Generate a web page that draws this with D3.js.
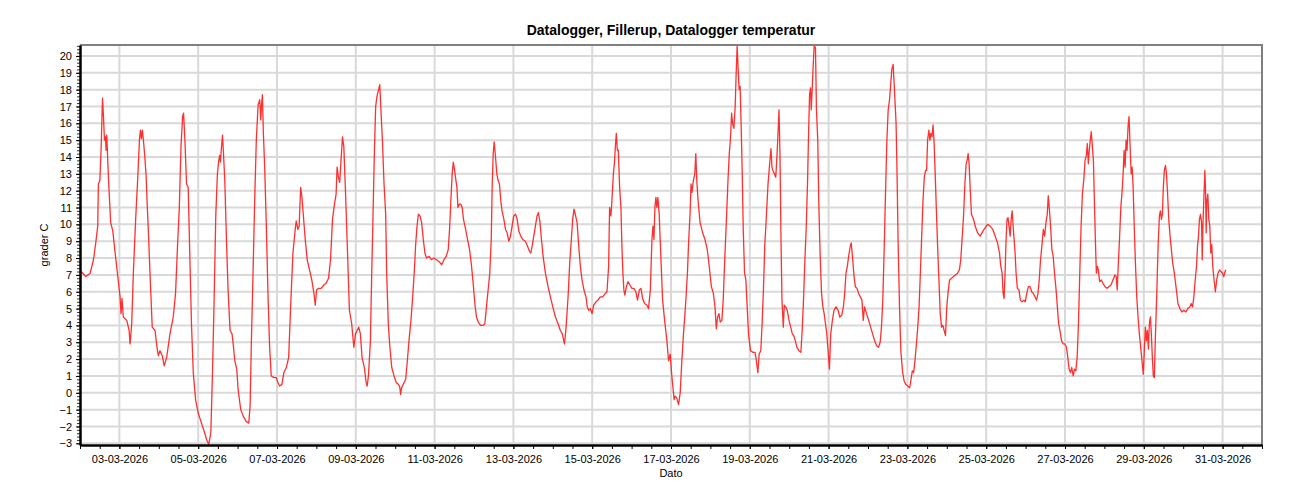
<!DOCTYPE html>
<html>
<head>
<meta charset="utf-8">
<script src="https://cdn.jsdelivr.net/npm/d3@7"></script>
<style>
    body { margin: 0; background: #fff; }
    text { font-family: "Liberation Sans", Arial, sans-serif; fill: #000; }
</style>
</head>
<body>
<div id="chart"></div>
<script>
// Logger readings, hours counted from 02-03-2026 00:00
const startTime = new Date(2026, 2, 2, 0, 0);

const hoursFromStart = [
    0.7, 3.5, 6.2, 8.2, 9.6, 10.8, 11.2, 12.1, 12.9, 13.7, 14.3, 14.9, 15.5, 15.9, 16.3, 16.9, 17.7, 18.7, 20, 21.4, 22.8,
    24.4, 25, 25.6, 26.4, 28.5, 29.9, 30.5, 31.5, 32.5, 33.9, 35.1, 36.2, 36.8, 37.4, 38, 38.8, 39.4, 40.2, 41.2, 42, 42.8,
    44, 45.7, 46.9, 47.7, 48.7, 50.1, 51.3, 52.8, 54.8, 56.8, 58.2, 59.4, 60.5, 61.5, 62.5, 63.1, 63.9, 64.9, 65.9, 66.9,
    67.9, 69, 70.4, 72, 74, 76, 77.2, 78.4, 79.7, 80.7, 81.7, 82.7, 83.7, 84.5, 85.1, 85.5, 86.2, 86.8, 87.4, 88.2, 89.2,
    90.2, 91.4, 92.6, 93.3, 94.3, 95.5, 96.3, 97.9, 99.5, 101.2, 102.8, 103.6, 104.4, 105.4, 106.4, 107.4, 108.5, 109.5,
    110.1, 110.5, 111.1, 111.7, 112.5, 113.5, 114.5, 115.5, 116.5, 118.2, 119.6, 120.6, 121.6, 123, 124.2, 125.7, 127.1,
    128.3, 129.7, 131.1, 131.7, 132.7, 133.5, 134.4, 135.2, 136, 137.2, 138.4, 139.8, 141.2, 142.5, 143.3, 144.1, 145.3,
    146.9, 148.5, 149.9, 151.4, 152.6, 153.8, 155, 156, 156.6, 157.4, 158.2, 159, 159.9, 160.7, 161.7, 162.7, 164.1,
    165.5, 166.8, 167.8, 168.8, 169.8, 170.8, 171.8, 173.2, 174.3, 174.9, 175.7, 176.9, 177.7, 178.5, 179.3, 180.1, 180.9,
    182.6, 183.2, 184.2, 185.2, 186.2, 186.8, 187.8, 188.6, 189.9, 191.3, 192.7, 193.9, 194.7, 195.3, 195.9, 196.9, 198.4,
    199.4, 200.4, 201.6, 202.8, 203.8, 204.4, 205.3, 206.1, 207.1, 208.1, 209.1, 210.1, 211.1, 212.6, 214, 215.6, 217.2,
    218.6, 220.3, 221.7, 223.1, 224.3, 225.1, 225.9, 226.7, 227.4, 228.2, 229, 229.6, 230.2, 231, 232, 232.8, 233.6, 234.9,
    236.1, 237.3, 238.3, 239.5, 240.5, 241.5, 242.6, 244, 245.4, 246.6, 247.6, 248.6, 249.6, 250.5, 251.1, 251.7, 252.3,
    253.1, 253.9, 254.7, 255.5, 256.3, 257.1, 258.2, 259.2, 260.2, 261.2, 262.2, 263.2, 264.2, 265.3, 266.3, 267.3, 268.5,
    269.7, 271.3, 272.6, 273.8, 274.6, 275.4, 276.4, 277.4, 278.4, 279.2, 280.1, 281.1, 282.1, 283.5, 285.1, 286.5, 288,
    289.6, 291.2, 292.6, 293.8, 295.1, 296.1, 297.3, 298.3, 299.3, 300.1, 300.9, 301.7, 302.8, 303.8, 304.8, 305.8, 307,
    308.2, 309, 309.9, 310.9, 311.9, 312.9, 314.3, 315.5, 316.9, 318.4, 320, 321, 322, 322.6, 323.4, 324, 324.9, 325.5,
    326.1, 326.7, 327.3, 327.9, 328.7, 329.5, 330.1, 330.7, 331.3, 331.9, 332.8, 333.8, 335, 336.2, 337.4, 338.6, 339.6,
    340.7, 341.7, 342.7, 343.9, 345.3, 346.3, 347.4, 348.4, 349, 349.6, 350.2, 350.8, 351.4, 352, 352.8, 353.8, 354.9,
    356.1, 357.5, 358.5, 359.5, 360.5, 361.9,
    362.5, 363.5, 364.6, 365.6, 366.6, 367.6, 368.8, 370, 370.8, 371.6, 372.2, 372.8, 373.6, 374.5, 375.1, 375.7, 376.5,
    377.7, 379.3, 380.7, 382.1, 383.3, 384.6, 385.8, 386.8, 387.6, 388.4, 389.2, 390, 391, 391.8, 392.8, 393.9, 394.7,
    395.5, 396.3, 396.9, 397.5, 398.3, 399.1, 399.7, 400.3, 400.9, 401.5, 402.1, 402.7, 403.4, 404, 404.8, 405.6, 406.4,
    407.2, 408.4, 410, 411.2, 412, 412.9, 413.7, 414.7, 415.5, 416.3, 417.1, 418.1, 419.1, 420.1, 420.9, 421.5, 422.1,
    423, 423.8, 424.4, 425, 425.8, 426.4, 427, 427.6, 428.4, 429, 429.8, 430.8, 431.9, 432.9, 433.9, 434.7, 435.7, 436.7,
    437.9, 439.1, 439.9, 440.7, 441.5, 442.4, 443.2, 443.8, 444.4, 445, 445.4, 446, 446.6, 447.2, 448, 448.6, 449.4, 450,
    450.8, 451.7, 452.5, 453.3, 454.1, 454.9, 455.7, 456.5, 457.3, 458.3, 459.3, 460.5, 461.8, 462.8, 464, 465, 465.8,
    466.6, 467.4, 468.2, 469.2, 469.8, 470.7, 471.5, 472.3, 473.3, 474.3, 475.3, 476.3, 477.1, 477.9, 479.1, 480.4, 481.6,
    482.8, 484, 485.2, 486.4, 487.4, 488.2, 489, 489.9, 490.7, 491.5, 492.3, 493.1, 493.9, 494.5, 495.3, 495.9, 496.5,
    497.1, 497.7, 498.3, 499.2, 500, 501, 502, 503, 504.2, 505.4, 506.2, 507, 507.8, 508.6, 509.5, 510.3, 511.1, 511.9,
    512.7, 513.5, 514.3, 515.1, 515.7, 516.3, 517.1, 517.7, 518.3, 519, 519.6, 520.2, 520.8, 521.6, 522.4, 523.2, 524,
    524.8, 525.6, 526.4, 527.2, 528, 528.9, 529.7, 530.9, 532.1, 533.3, 534.5, 535.7, 536.5, 537.3, 538.2, 539, 539.8,
    540.4, 541, 541.6, 542.2, 543,
    544.3, 545.3, 546.7, 548.4, 550, 551.4, 552.8, 554.4, 556, 557.5, 558.9, 560.1, 560.9, 561.7, 562.3, 562.9, 563.5,
    564.1, 564.7, 565.3, 565.9, 566.6, 567.2, 567.8, 568.4, 569, 569.6, 570.2, 571, 572, 572.8, 573.8, 575, 575.8, 576.7,
    577.7, 578.7, 579.7, 580.7, 581.7, 582.7, 583.5, 584.3, 585.1, 585.9, 586.8, 587.6, 588.4, 589.2, 589.8, 590.4, 591.2,
    592, 592.8, 593.6, 594.4, 595.2, 596.1, 596.9, 597.9, 598.9, 599.9, 600.9, 601.7, 602.5, 603.3, 604.1, 605, 605.8,
    606.6, 607.4, 608.2, 609, 609.8, 610.6, 611.4, 612.2, 613, 613.6, 614.2, 614.8, 615.4, 616, 616.7, 617.3, 617.9,
    618.5, 619.1, 619.7, 620.3, 621.1, 622.1, 623.1, 624.4, 625.6, 626.8, 628, 629.2, 630.4, 631.2, 631.8, 632.4, 633.2,
    634, 634.8, 635.4, 636, 636.6, 637.2, 637.8, 638.4, 639, 639.6, 640.3, 640.9, 641.5, 642.1, 642.9, 643.7, 644.5,
    645.3, 646.1, 646.9, 647.7, 648.4, 649, 649.6, 650.2, 650.8, 651.4, 652, 652.6, 653.2, 653.8, 654.4, 655, 655.9,
    656.7, 657.5, 658.1, 658.7, 659.3, 659.9, 660.5, 661.2, 661.8, 662.4, 663.2, 664, 664.8, 665.6, 666.6, 667.6, 668.8,
    670, 671.2, 672.4, 673.6, 674.8, 676, 676.9, 677.7, 678.5, 679.3, 680.1, 680.7, 681.3, 681.9, 682.5, 683.2, 683.6,
    684, 684.6, 685.2, 685.6, 686, 686.4, 687, 687.6, 688.2, 688.8, 689.4, 690, 690.8, 691.6, 692.4, 693.2, 694.2, 695,
    695.9, 696.7, 697.5, 697.9
];

const temperatures = [
    7.2, 6.9, 7.1, 7.9, 8.9, 9.9, 12.4, 12.6, 14.6, 17.5, 16.4, 15.0, 15.2, 14.4, 15.3, 13.8, 12.0, 10.1, 9.6, 8.3, 7.1,
    5.7, 4.7, 5.6, 4.5, 4.3, 3.7, 2.9, 4.1, 7.1, 10.3, 12.6, 15.0, 15.6, 15.1, 15.6, 14.8, 14.1, 13.0, 10.6, 8.7, 6.7,
    3.9, 3.7, 2.7, 2.2, 2.5, 2.2, 1.6, 2.1, 3.5, 4.5, 5.9, 8.7, 11.0, 14.6, 16.4, 16.6, 15.0, 12.4, 12.2, 8.1,
    4.1, 1.2, -0.4, -1.2, -1.8, -2.4, -2.8, -3.05, -2.4, 1.2, 5.5, 10.5, 13.0, 13.8, 14.1, 13.7, 14.6, 15.3, 14.2, 12.6, 9.1,
    6.1, 3.7, 3.5, 2.9, 1.9, 1.4, 0.2, -1.0, -1.4, -1.7, -1.8, -0.8, 3.1, 7.1, 11.4, 15.0, 17.1, 17.4,
    16.2, 17.0, 17.7, 15.4, 13.4, 9.9, 5.9, 2.7, 1.0, 0.9, 0.9, 0.6, 0.4, 0.5, 1.2, 1.5, 2.1,
    5.1, 8.3, 9.7, 10.2, 9.7, 9.9, 12.2, 11.6, 10.6, 9.1, 7.9, 7.3, 6.7, 5.9, 5.2, 6.1, 6.2,
    6.2, 6.4, 6.5, 6.8, 7.9, 10.3, 11.2, 11.8, 13.4, 12.8, 12.5, 13.8, 15.2, 14.6, 12.0, 9.1, 4.9,
    4.1, 2.7, 3.5, 3.7, 3.9, 3.5, 2.1, 1.5, 0.6, 0.4, 1.0, 3.1, 7.1, 10.6, 14.2, 17.0, 17.6,
    18.3, 17.0, 15.0, 12.4, 10.6, 7.1, 4.1, 2.9, 1.5, 1.0, 0.6, 0.5, 0.4, -0.1, 0.3, 0.5, 0.8,
    1.9, 3.1, 4.3, 5.9, 7.5, 8.7, 9.9, 10.6, 10.5, 10.1, 9.1, 8.3, 8.0, 8.1, 7.9, 8.0, 7.9,
    7.8, 7.6, 7.9, 8.1, 8.5, 9.7, 11.4, 13.0, 13.7, 13.2, 12.6, 12.2, 11.0, 11.2, 11.2, 11.0, 10.3, 9.7,
    9.1, 8.5, 7.7, 6.5, 5.3, 4.5, 4.2, 4.0, 4.0, 4.1, 5.1, 6.1, 7.1, 9.1, 12.4, 14.2, 14.9,
    14.0, 13.0, 12.6, 12.4, 11.4, 10.8, 10.3, 9.7, 9.5, 9.0, 9.3, 9.9, 10.5, 10.6, 10.3, 9.6, 9.3,
    9.1, 9.0, 8.7, 8.4, 8.3, 8.7, 9.3, 9.9, 10.5, 10.7, 10.2, 9.1, 8.1, 7.1, 6.3, 5.7, 5.1,
    4.5, 4.1, 3.7, 3.5, 2.9, 3.9, 5.7, 7.7, 9.1, 10.3, 10.9, 10.6, 10.1, 8.7, 7.5, 6.7, 6.1,
    5.7, 5.1, 4.9, 5.0, 4.7, 5.2, 5.4, 5.5, 5.7, 5.7, 5.9, 6.0, 7.5, 11.0, 10.5, 11.4, 13.0, 13.6,
    14.6, 15.4, 14.4, 14.4, 12.2, 11.0, 8.7, 7.1, 6.1, 5.8, 6.3, 6.6, 6.4, 6.2, 6.2, 6.0, 5.5,
    6.1, 6.2, 5.6, 5.3, 5.2, 5.0, 6.1, 9.1, 9.9, 9.1, 11.0, 11.6, 11.0, 11.6, 10.6, 8.1, 5.5,
    4.3, 3.1, 1.9, 2.3, 1.0, -0.4,
    -0.2, -0.3, -0.7, 0.0, 1.9, 3.5, 5.1, 7.1, 9.1, 10.6, 12.4, 11.9, 12.6, 13.0, 14.2, 12.6, 11.4,
    10.1, 9.5, 9.1, 8.5, 7.5, 6.3, 5.9, 5.1, 3.8, 4.5, 4.7, 4.2, 4.3, 5.5, 8.1, 10.6, 12.6,
    14.2, 15.2, 16.6, 16.0, 15.7, 17.0, 19.0, 20.6, 19.2, 18.0, 18.2, 16.0, 13.0, 9.7, 7.1, 6.7, 5.1,
    3.5, 2.5, 2.4, 2.4, 1.9, 1.2, 2.3, 2.5, 4.1, 6.1, 8.7, 10.5, 12.4, 13.6, 14.5, 13.4, 13.2,
    13.0, 12.8, 13.8, 15.0, 16.8, 14.0, 9.1, 5.5, 3.9, 5.2, 5.1, 4.9, 4.3, 3.9, 3.5, 3.4, 3.1, 2.7,
    2.5, 2.4, 3.7, 5.5, 7.7, 9.9, 12.6, 15.4, 17.7, 18.1, 16.8, 18.0, 19.4, 20.6, 20.5, 16.8, 15.0, 11.4,
    8.3, 5.9, 5.1, 4.7, 4.1, 3.5, 2.5, 1.4, 3.5, 4.3, 4.9, 5.1, 4.9, 4.5, 4.6, 5.1, 5.9,
    7.1, 7.5, 8.1, 8.7, 8.9, 7.9, 6.9, 6.3, 6.2, 5.9, 5.7, 5.5, 4.3, 5.1, 4.7, 4.3, 3.9,
    3.5, 3.1, 2.8, 2.7, 3.0, 3.9, 5.5, 8.7, 12.0, 15.0, 16.8, 17.4, 18.4, 19.2, 19.5, 18.4, 17.2,
    16.0, 13.0, 9.1, 5.1, 2.5, 1.3, 0.7, 0.5, 0.4, 0.3, 0.8, 1.3, 1.2, 1.9, 2.9, 3.9, 5.1, 7.1,
    9.3, 11.4, 12.8, 13.2, 13.2, 15.0, 15.6, 15.0, 15.4, 15.2, 15.9, 15.0, 13.4, 11.0, 8.7, 6.7, 4.7,
    3.9, 4.0, 3.7, 3.4, 5.1, 6.1, 6.7, 6.8, 6.9, 7.0, 7.1, 7.3, 7.9, 9.1, 10.5, 12.4, 13.6,
    13.8, 14.2, 13.6, 12.2, 10.6,
    10.3, 9.9, 9.5, 9.3, 9.6, 9.8, 10.0, 9.9, 9.7, 9.3, 8.9, 8.3, 7.5, 7.1, 5.9, 5.6, 7.1,
    9.1, 10.3, 10.4, 9.9, 9.3, 10.3, 10.8, 9.9, 9.1, 8.3, 7.1, 6.2, 6.1, 5.5, 5.4, 5.5, 5.4, 5.9,
    6.3, 6.3, 6.0, 5.9, 5.7, 5.5, 5.9, 6.7, 7.9, 8.7, 9.7, 9.3, 10.1, 10.6, 11.7, 11.0, 9.9,
    8.5, 8.1, 7.1, 6.3, 5.3, 4.1, 3.7, 3.1, 2.9, 2.9, 2.7, 2.1, 1.4, 1.2, 1.5, 1.0, 1.4,
    1.3, 2.1, 4.1, 7.1, 9.9, 11.8, 12.6, 13.8, 14.1, 14.8, 13.6, 14.4, 15.0, 15.5, 14.6, 13.8, 11.4,
    9.1, 7.1, 7.5, 7.3, 6.6, 6.7, 6.5, 6.3, 6.2, 6.3, 6.4, 6.7, 7.0, 6.9, 6.1, 7.5, 9.1,
    11.0, 12.0, 13.0, 14.4, 13.4, 15.0, 14.4, 15.8, 16.4, 14.8, 13.0, 13.4, 12.2, 10.1, 7.7, 5.7, 4.5,
    3.5, 2.7, 1.9, 1.1, 2.7, 3.9, 3.1, 3.7, 2.6, 4.1, 4.5, 3.5, 2.1, 1.0, 0.9, 3.1, 5.9,
    8.7, 10.5, 10.8, 10.3, 10.6, 12.2, 13.2, 13.5, 13.0, 12.0, 10.3, 9.3, 8.5, 7.7, 7.1, 6.3, 5.3,
    5.0, 4.8, 4.9, 4.8, 5.0, 5.1, 5.3, 5.1, 5.7, 6.7, 7.5, 8.7, 9.3, 10.3, 10.6, 10.1, 7.9,
    9.9, 11.6, 13.2, 12.0, 9.5, 11.4, 11.8, 10.3, 9.9, 8.3, 8.8, 7.5, 6.7, 6.0, 6.7, 7.1, 7.3, 7.2,
    7.1, 6.9, 7.2, 7.3
];

const chartTitle = 'Datalogger, Fillerup, Datalogger temperatur';
const yAxisTitle = 'grader C';
const xAxisTitle = 'Dato';
const xDomain = [new Date(2026, 2, 2, 0, 0), new Date(2026, 3, 1, 0, 0)];
const yDomain = [-3.1, 20.65];

const width = 1300;
const height = 500;
const margin = { top: 45, right: 38, bottom: 55, left: 80 };
const plotWidth = width - margin.left - margin.right;
const plotHeight = height - margin.top - margin.bottom;

const readings = hoursFromStart.map((h, i) => ({
    time: d3.timeMinute.offset(startTime, Math.round(h * 60)),
    temp: temperatures[i]
}));

const svg = d3.select('#chart')
    .append('svg')
    .attr('width', width)
    .attr('height', height);

const canvas = svg.append('g')
    .attr('transform', `translate(${margin.left}, ${margin.top})`);

const x = d3.scaleTime().domain(xDomain).range([0, plotWidth]);
const y = d3.scaleLinear().domain(yDomain).range([plotHeight, 0]);

const majorDates = d3.timeDay.every(2).range(xDomain[0], xDomain[1]);
const yMajor = d3.range(-3, 21, 1);
const yMinor = d3.range(-3, 20.61, 0.2);

// Grid lines
canvas.append('g')
    .attr('class', 'grid-y')
    .selectAll('line')
    .data(yMajor)
    .enter()
    .append('line')
    .attr('x1', 0)
    .attr('x2', plotWidth)
    .attr('y1', d => y(d))
    .attr('y2', d => y(d))
    .attr('stroke', '#d9d9d9')
    .attr('stroke-width', 2);

canvas.append('g')
    .attr('class', 'grid-x')
    .selectAll('line')
    .data(majorDates)
    .enter()
    .append('line')
    .attr('x1', d => x(d))
    .attr('x2', d => x(d))
    .attr('y1', 0)
    .attr('y2', plotHeight)
    .attr('stroke', '#d9d9d9')
    .attr('stroke-width', 2);

// Temperature line
svg.append('defs')
    .append('clipPath')
    .attr('id', 'plot-clip')
    .append('rect')
    .attr('width', plotWidth)
    .attr('height', plotHeight);

const line = d3.line()
    .x(d => x(d.time))
    .y(d => y(d.temp));

canvas.append('path')
    .datum(readings)
    .attr('clip-path', 'url(#plot-clip)')
    .attr('fill', 'none')
    .attr('stroke', '#ff1a1a')
    .attr('stroke-opacity', 0.9)
    .attr('stroke-width', 1.3)
    .attr('stroke-linejoin', 'round')
    .attr('d', line);

// Top and right frame
canvas.append('path')
    .attr('d', `M0,0H${plotWidth}V${plotHeight}`)
    .attr('fill', 'none')
    .attr('stroke', '#808080')
    .attr('stroke-width', 2);

// Y axis: minor ticks, then labelled major ticks
canvas.append('g')
    .attr('class', 'y-minor')
    .call(d3.axisLeft(y).tickValues(yMinor).tickSize(3).tickFormat(''))
    .call(g => g.select('.domain').remove())
    .call(g => g.selectAll('line').attr('stroke', '#333'));

canvas.append('g')
    .attr('class', 'y-axis')
    .call(d3.axisLeft(y).tickValues(yMajor).tickSize(4).tickPadding(4).tickSizeOuter(0).tickFormat(d3.format('d')))
    .call(g => g.select('.domain').attr('stroke', '#000').attr('stroke-width', 2.5))
    .call(g => g.selectAll('text').attr('font-size', 11).attr('fill', '#000'));

// X axis: 12-hour minor ticks, labels every second day
canvas.append('g')
    .attr('class', 'x-minor')
    .attr('transform', `translate(0, ${plotHeight})`)
    .call(d3.axisBottom(x).ticks(d3.timeHour.every(12)).tickSize(4).tickFormat(''))
    .call(g => g.select('.domain').remove())
    .call(g => g.selectAll('line').attr('stroke', '#000'));

canvas.append('g')
    .attr('class', 'x-axis')
    .attr('transform', `translate(0, ${plotHeight})`)
    .call(d3.axisBottom(x).tickValues(majorDates).tickSize(4).tickPadding(6).tickSizeOuter(0)
        .tickFormat(d3.timeFormat('%d-%m-%Y')))
    .call(g => g.select('.domain').attr('stroke', '#000').attr('stroke-width', 2.5))
    .call(g => g.selectAll('text').attr('font-size', 11).attr('fill', '#000'));

// Titles
svg.append('text')
    .text(chartTitle)
    .attr('x', margin.left + plotWidth / 2)
    .attr('y', 35)
    .attr('text-anchor', 'middle')
    .attr('font-size', 14)
    .attr('font-weight', 'bold');

svg.append('text')
    .text(xAxisTitle)
    .attr('x', margin.left + plotWidth / 2)
    .attr('y', 477)
    .attr('text-anchor', 'middle')
    .attr('font-size', 11);

svg.append('text')
    .text(yAxisTitle)
    .attr('transform', `translate(48, ${margin.top + plotHeight / 2}) rotate(-90)`)
    .attr('text-anchor', 'middle')
    .attr('font-size', 11);
</script>
</body>
</html>
